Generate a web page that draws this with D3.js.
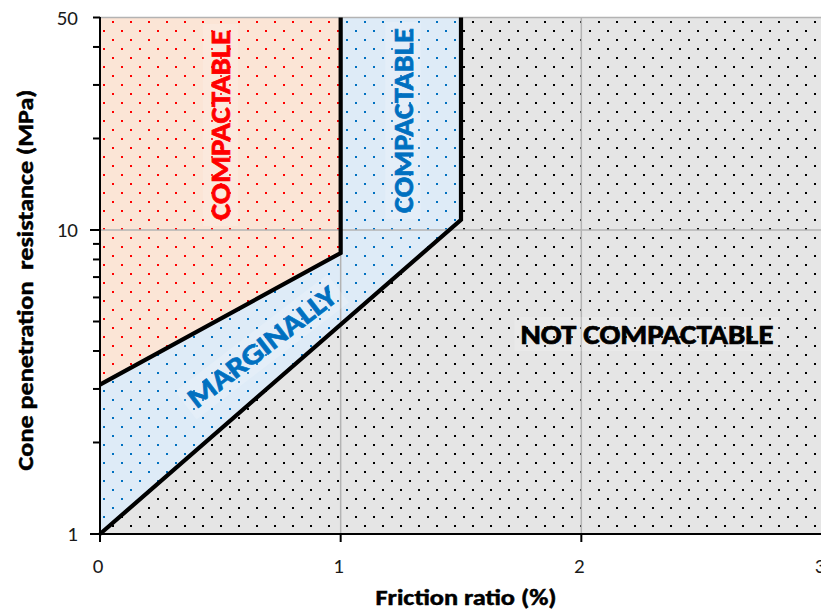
<!DOCTYPE html>
<html>
<head>
<meta charset="utf-8">
<script src="https://cdn.jsdelivr.net/npm/d3@7"></script>
<style>
  html, body { margin: 0; padding: 0; background: #ffffff; }
  svg { display: block; }
  text { font-family: Carlito, Calibri, Lato, "Open Sans", sans-serif; }
</style>
</head>
<body>
<svg id="chart" width="821" height="611"></svg>
<script>
// Axis extents and ticks
const xDomain = [0, 3];
const yDomain = [1, 50];
const xTicks = [0, 1, 2, 3];
const yLabelTicks = [1, 10, 50];
const yMajorTicks = [1, 10];
const yMinorTicks = [2, 3, 4, 5, 6, 7, 8, 9, 20, 30, 40, 50];
const xGrid = [1, 2, 3];
const yGrid = [10, 50];

// Zone boundaries: friction ratio (%) vs cone resistance (MPa)
const compactableRatio = [0, 1, 1];
const compactableResistance = [3.1, 8.4, 50];
const marginalRatio = [0, 1.5, 1.5];
const marginalResistance = [1, 10.8, 50];

// Zone labels
const zoneLabels = ["COMPACTABLE", "COMPACTABLE", "MARGINALLY", "NOT COMPACTABLE"];

const svg = d3.select("#chart");
const plot = { left: 100, right: 822, top: 17.5, bottom: 534 };

const x = d3.scaleLinear().domain(xDomain).range([plot.left, plot.right]);
const y = d3.scaleLog().domain(yDomain).range([plot.bottom, plot.top]);

const toPts = (xs, ys) => xs.map((v, i) => [v, ys[i]]);
const compactablePts = toPts(compactableRatio, compactableResistance);
const marginalPts = toPts(marginalRatio, marginalResistance);

// Dotted fill patterns
const defs = svg.append("defs");
function dotPattern(id, bg, dot) {
  const p = defs.append("pattern")
    .attr("id", id)
    .attr("patternUnits", "userSpaceOnUse")
    .attr("x", 103).attr("y", 12)
    .attr("width", 18).attr("height", 18);
  p.append("rect").attr("width", 18).attr("height", 18).attr("fill", bg);
  p.append("rect").attr("x", 0).attr("y", 0).attr("width", 2).attr("height", 2).attr("fill", dot);
  p.append("rect").attr("x", 9).attr("y", 9).attr("width", 2).attr("height", 2).attr("fill", dot);
}
dotPattern("pNot", "#e5e5e5", "#000000");
dotPattern("pMarg", "#deebf7", "#0070c0");
dotPattern("pComp", "#fbe5d6", "#ff0000");

// Zone fills
svg.append("rect")
  .attr("x", x(xDomain[0])).attr("y", y(yDomain[1]))
  .attr("width", x(xDomain[1]) - x(xDomain[0]))
  .attr("height", y(yDomain[0]) - y(yDomain[1]))
  .attr("fill", "url(#pNot)");

function zonePolygon(pts) {
  const ring = pts.map(d => [x(d[0]), y(d[1])]);
  ring.push([x(pts[0][0]), y(yDomain[1])]);
  return "M" + ring.map(p => p.join(",")).join("L") + "Z";
}
svg.append("path").attr("d", zonePolygon(marginalPts)).attr("fill", "url(#pMarg)");
svg.append("path").attr("d", zonePolygon(compactablePts)).attr("fill", "url(#pComp)");

// Gridlines
const grid = svg.append("g").attr("stroke", "#b3b3b3").attr("stroke-width", 1.5);
grid.selectAll("line.v").data(xGrid).join("line")
  .attr("x1", d => x(d)).attr("x2", d => x(d))
  .attr("y1", y(yDomain[0])).attr("y2", y(yDomain[1]));
grid.selectAll("line.h").data(yGrid).join("line")
  .attr("x1", x(xDomain[0])).attr("x2", x(xDomain[1]))
  .attr("y1", d => y(d)).attr("y2", d => y(d));

// Boundary lines
const line = d3.line().x(d => x(d[0])).y(d => y(d[1]));
[compactablePts, marginalPts].forEach(pts => {
  svg.append("path").attr("d", line(pts))
    .attr("fill", "none").attr("stroke", "#000").attr("stroke-width", 4.2)
    .attr("stroke-linejoin", "miter");
});

// Zone labels with faint backing boxes
function zoneLabel(txt, cx, cy, angle, color, size, len) {
  const g = svg.append("g").attr("transform", `translate(${cx},${cy}) rotate(${angle})`);
  g.append("rect")
    .attr("x", -len / 2 - 6).attr("y", -size * 0.62)
    .attr("width", len + 12).attr("height", size * 1.24)
    .attr("fill", "#ffffff").attr("fill-opacity", 0.18);
  g.append("text")
    .attr("text-anchor", "middle")
    .attr("dominant-baseline", "central")
    .attr("font-weight", "bold")
    .attr("font-size", size)
    .attr("fill", color)
    .attr("stroke", color).attr("stroke-width", 0.7)
    .attr("textLength", len)
    .attr("lengthAdjust", "spacingAndGlyphs")
    .text(txt);
}
zoneLabel(zoneLabels[0], 220.5, 125, -90, "#ff0000", 28.5, 190);
zoneLabel(zoneLabels[1], 403, 120.5, -90, "#0070c0", 28.5, 185);
zoneLabel(zoneLabels[2], 262, 347, -37.5, "#0070c0", 28.5, 180);
zoneLabel(zoneLabels[3], 647, 334, 0, "#000000", 27.5, 253);

// Axes
const axes = svg.append("g").attr("stroke", "#000");
axes.append("line")
  .attr("x1", plot.left).attr("x2", plot.left)
  .attr("y1", y(yDomain[1]) - 0.5).attr("y2", y(yDomain[0]) + 1)
  .attr("stroke-width", 2);
axes.append("line")
  .attr("x1", plot.left - 1).attr("x2", plot.right)
  .attr("y1", y(yDomain[0])).attr("y2", y(yDomain[0]))
  .attr("stroke-width", 2);
axes.selectAll("line.ymaj").data(yMajorTicks).join("line")
  .attr("x1", plot.left - 10).attr("x2", plot.left)
  .attr("y1", d => y(d)).attr("y2", d => y(d)).attr("stroke-width", 2);
axes.selectAll("line.ymin").data(yMinorTicks).join("line")
  .attr("x1", plot.left - 7).attr("x2", plot.left)
  .attr("y1", d => y(d)).attr("y2", d => y(d)).attr("stroke-width", 2);
axes.selectAll("line.xt").data(xTicks).join("line")
  .attr("x1", d => x(d)).attr("x2", d => x(d))
  .attr("y1", plot.bottom).attr("y2", plot.bottom + 8).attr("stroke-width", 2);

// Tick labels
svg.selectAll("text.yl").data(yLabelTicks).join("text")
  .attr("x", 78).attr("y", d => y(d))
  .attr("text-anchor", "end").attr("dominant-baseline", "central")
  .attr("font-size", 21).attr("fill", "#1a1a1a")
  .text(d => d);
svg.selectAll("text.xl").data(xTicks).join("text")
  .attr("x", d => x(d) - 2).attr("y", 566)
  .attr("text-anchor", "middle").attr("dominant-baseline", "central")
  .attr("font-size", 21).attr("fill", "#1a1a1a")
  .text(d => d);

// Axis titles
svg.append("text")
  .attr("x", 466).attr("y", 605)
  .attr("text-anchor", "middle")
  .attr("font-size", 22.5).attr("font-weight", "bold")
  .attr("stroke", "#000").attr("stroke-width", 0.5)
  .attr("textLength", 181).attr("lengthAdjust", "spacingAndGlyphs")
  .text("Friction ratio (%)");
svg.append("text")
  .attr("transform", "translate(33,280) rotate(-90)")
  .attr("text-anchor", "middle")
  .attr("font-size", 22.5).attr("font-weight", "bold")
  .attr("stroke", "#000").attr("stroke-width", 0.5)
  .attr("xml:space", "preserve").style("white-space", "pre")
  .attr("textLength", 381).attr("lengthAdjust", "spacingAndGlyphs")
  .text("Cone penetration  resistance (MPa)");
</script>
</body>
</html>
